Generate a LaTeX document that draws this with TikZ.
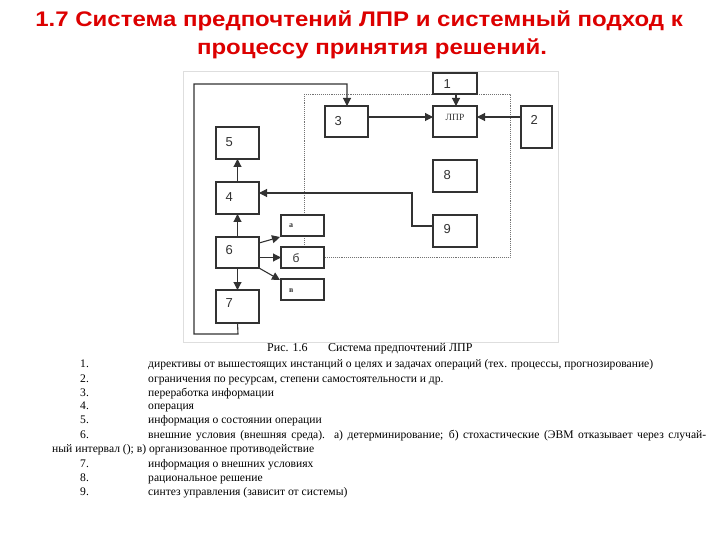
\documentclass[tikz,border=0pt]{standalone}
\usepackage{fontspec}
\setmainfont{Liberation Serif}
\newfontfamily\titlefont{Liberation Sans}
\usetikzlibrary{arrows.meta}
\definecolor{titlered}{RGB}{220,0,0}
\definecolor{lineclr}{RGB}{50,50,50}
\tikzset{
  blk/.style={draw=lineclr, line width=1.2pt, fill=white, inner sep=0pt, outer sep=0pt},
  num/.style={font=\titlefont\fontsize{13}{13}\selectfont, text=lineclr},
  conn/.style={draw=lineclr, line width=1.1pt, -{Triangle[length=8pt,width=8pt]}},
  itm/.style={anchor=base west, inner sep=0pt, font=\fontsize{11.6}{12}\selectfont},
  captxt/.style={anchor=base west, inner sep=0pt, font=\fontsize{12}{12}\selectfont},
  ttl/.style={anchor=base, inner sep=0pt, font=\titlefont\bfseries\fontsize{24}{24}\selectfont, text=titlered}
}
\newcommand{\blkbox}[5]{% name, x1, y1, x2, y2
  \node[blk, minimum width={#4-#2}, minimum height={#5-#3}] (#1) at ({(#2+#4)/2},{(#3+#5)/2}) {};
}
\begin{document}
\begin{tikzpicture}[x=1pt,y=-1pt]
\useasboundingbox (0,0) rectangle (720,540);
% title
\node[ttl] (t1) at (359,27) {\scalebox{1}[0.88]{1.7 Система предпочтений ЛПР и системный подход к}};
\node[ttl] (t2) at (372,55) {\scalebox{1}[0.88]{процессу принятия решений.}};
% figure frame
\draw[draw=black!13, line width=0.8pt] (183,71) rectangle (558,342);
% dashed region
\draw[draw=black!55, line width=0.9pt, densely dotted] (304,94) rectangle (510,257);
% boxes
\blkbox{b1}{433}{73}{477}{94}
\blkbox{lpr}{433}{106}{477}{137}
\blkbox{b2}{521}{106}{552}{148}
\blkbox{b3}{325}{106}{368}{137}
\blkbox{b5}{216}{127}{259}{159}
\blkbox{b4}{216}{182}{259}{214}
\blkbox{b6}{216}{237}{259}{268}
\blkbox{b7}{216}{290}{259}{323}
\blkbox{b8}{433}{160}{477}{192}
\blkbox{b9}{433}{215}{477}{247}
\blkbox{ba}{281}{215}{324}{236}
\blkbox{bb}{281}{247}{324}{268}
\blkbox{bv}{281}{279}{324}{300}
% labels
\node[num, anchor=west] (l1) at (440,84) {1};
\node[inner sep=0pt, font=\fontsize{9.5}{9.5}\selectfont, text=lineclr] (llpr) at (455,117) {ЛПР};
\node[num, anchor=west] (l2) at (527,120) {2};
\node[num, anchor=west] (l3) at (331,121) {3};
\node[num, anchor=west] (l5) at (222,142) {5};
\node[num, anchor=west] (l4) at (222,197) {4};
\node[num, anchor=west] (l6) at (222,250) {6};
\node[num, anchor=west] (l7) at (222,303) {7};
\node[num, anchor=west] (l8) at (440,175) {8};
\node[num, anchor=west] (l9) at (440,229) {9};
\node[inner sep=0pt, font=\bfseries\fontsize{8}{8}\selectfont, anchor=west, text=lineclr] (la) at (289,226) {а};
\node[num, anchor=west, font=\titlefont\fontsize{12}{12}\selectfont] (lb) at (289,258) {б};
\node[inner sep=0pt, font=\bfseries\fontsize{8}{8}\selectfont, anchor=west, text=lineclr] (lv) at (289,291) {в};
% connectors
\draw[conn] ([xshift=1pt]b1.south) -- ([xshift=1pt]lpr.north);
\draw[conn] ([yshift=4.5pt]b3.east) -- ([yshift=4.5pt]lpr.west);
\draw[conn] ([yshift=10pt]b2.west) -- ([yshift=4.5pt]lpr.east);
\coordinate (c9) at (412,226);
\draw[conn] ([yshift=5pt]b9.west) -- (c9) |- ([yshift=5pt]b4.east);
\draw[conn] (b4.north) -- (b5.south);
\draw[conn] (b6.north) -- (b4.south);
\draw[conn] (b6.south) -- (b7.north);
\draw[conn] ([yshift=-6pt]b6.north east) -- ([xshift=-1pt,yshift=-1pt]ba.south west);
\draw[conn] (b6.east |- bb.west) -- (bb.west);
\draw[conn] (b6.south east) -- ([xshift=-1pt,yshift=-1pt]bv.north west);
\coordinate (lp1) at (238,334);
\coordinate (lp2) at (194,334);
\coordinate (lp3) at (194,84);
\coordinate (lp4) at (347,84);
\draw[conn] (b7.south) -- (lp1) -- (lp2) -- (lp3) -- (lp4) -- ([xshift=0.5pt]b3.north);
% caption
\node[captxt] (cap1) at (267,351) {Рис. 1.6};
\node[captxt] (cap2) at (328,351) {Система предпочтений ЛПР};
% list
\node[itm] (n1) at (80,367) {1.};
\node[itm] (x1) at (148,367) {директивы от вышестоящих инстанций о целях и задачах операций (тех. процессы, прогнозирование)};
\node[itm] (n2) at (80,382) {2.};
\node[itm] (x2) at (148,382) {ограничения по ресурсам, степени самостоятельности и др.};
\node[itm] (n3) at (80,396) {3.};
\node[itm] (x3) at (148,396) {переработка информации};
\node[itm] (n4) at (80,409) {4.};
\node[itm] (x4) at (148,409) {операция};
\node[itm] (n5) at (80,423) {5.};
\node[itm] (x5) at (148,423) {информация о состоянии операции};
\node[itm] (n6) at (80,438) {6.};
\node[itm] (x6) at (148,438) {\makebox[558pt][s]{внешние условия (внешняя среда). а) детерминирование; б) стохастические (ЭВМ отказывает через случай-}};
\node[itm] (x6b) at (52,452) {ный интервал (); в) организованное противодействие};
\node[itm] (n7) at (80,467) {7.};
\node[itm] (x7) at (148,467) {информация о внешних условиях};
\node[itm] (n8) at (80,481) {8.};
\node[itm] (x8) at (148,481) {рациональное решение};
\node[itm] (n9) at (80,495) {9.};
\node[itm] (x9) at (148,495) {синтез управления (зависит от системы)};
\end{tikzpicture}
\end{document}
